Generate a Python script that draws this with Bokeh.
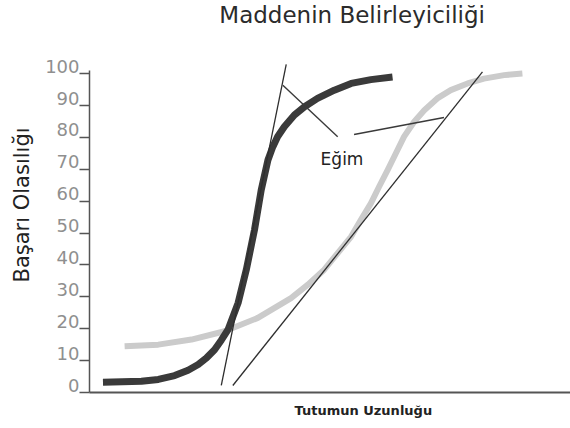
from bokeh.plotting import figure
from bokeh.models import Range1d, FixedTicker, LinearAxis, Title
from bokeh.embed import file_html
from bokeh.resources import INLINE
from bokeh.core.properties import value

# ---- data ----
title_text = ["Maddenin Belirleyiciliği"]
x_title = "Tutumun Uzunluğu"
y_title = "Başarı Olasılığı"
y_ticks = [0, 10, 20, 30, 40, 50, 60, 70, 80, 90, 100]

dark_x = [2.8, 10.8, 14.3, 17.7, 20.5, 22.6, 24.3, 26.0, 27.4, 28.8, 30.9, 32.6, 34.3, 35.7,
          37.1, 38.1, 39.1, 40.5, 42.6, 44.7, 47.4, 50.9, 54.4, 58.5, 63.0]
dark_y = [3.2, 3.5, 4.1, 5.3, 7.0, 8.8, 10.8, 13.4, 16.4, 19.7, 28.1, 38.5, 51.0, 63.5,
          72.9, 77.0, 80.2, 83.3, 87.0, 89.6, 92.2, 94.8, 96.9, 98.1, 98.9]

light_x = [7.3, 14.3, 21.2, 28.1, 35.0, 41.9, 45.4, 48.8, 51.6, 54.4, 56.4, 58.5, 60.2, 62.0,
           63.7, 65.4, 67.5, 69.6, 72.3, 75.1, 78.6, 82.0, 86.2, 90.0]
light_y = [14.5, 15.0, 16.6, 19.2, 23.4, 29.6, 33.8, 38.5, 43.7, 48.9, 54.1, 59.3, 64.5, 69.8,
           75.0, 80.2, 84.9, 88.5, 92.2, 94.8, 96.9, 98.4, 99.5, 100.0]

tangent_dark_x = [27.4, 40.9]
tangent_dark_y = [2.2, 102.9]
tangent_light_x = [29.8, 81.7]
tangent_light_y = [2.2, 100.5]

pointer_x0 = [51.6, 55.0]
pointer_y0 = [80.2, 80.9]
pointer_x1 = [40.2, 73.7]
pointer_y1 = [96.3, 86.2]

note_text = ["Eğim"]
note_x = [52.5]
note_y = [73.2]

title_x = [54.6]
title_y = [118.2]

FONT = "DejaVu Sans"
Y_END = 122.9
LABEL_SHIFT = 2.3   # tick labels sit just above their tick marks

p = figure(width=570, height=428, output_backend="svg", toolbar_location=None,
           x_range=Range1d(0, 100), y_range=Range1d(0, Y_END),
           min_border_left=88, min_border_right=0, min_border_top=0, min_border_bottom=35)
p.background_fill_color = "white"
p.border_fill_color = "white"
p.outline_line_color = None
p.xgrid.visible = False
p.ygrid.visible = False

# x axis: line only
p.xaxis.ticker = FixedTicker(ticks=[])
p.xaxis.axis_line_color = "#555555"
p.xaxis.axis_line_width = 2
p.xaxis.major_tick_line_color = None
p.xaxis.minor_tick_line_color = None
p.xaxis.major_label_standoff = 0
p.xaxis.major_tick_out = 0
p.xaxis.major_tick_in = 0

# y axis: line + tick marks
p.yaxis.ticker = FixedTicker(ticks=y_ticks)
p.yaxis.bounds = (0, 101)
p.yaxis.axis_line_color = "#555555"
p.yaxis.axis_line_width = 1.5
p.yaxis.major_tick_line_color = "#555555"
p.yaxis.major_tick_line_width = 1.5
p.yaxis.major_tick_out = 10
p.yaxis.major_tick_in = 0
p.yaxis.minor_tick_line_color = None
p.yaxis.major_label_standoff = 0
p.yaxis.major_label_overrides = {t: "" for t in y_ticks}
p.yaxis.major_label_text_color = None

# y tick labels, drawn on a shifted range so they sit above the marks
p.extra_y_ranges = {"labels": Range1d(-LABEL_SHIFT, Y_END - LABEL_SHIFT)}
lab_axis = LinearAxis(y_range_name="labels", ticker=FixedTicker(ticks=y_ticks),
                      axis_line_color=None, major_tick_line_color=None,
                      minor_tick_line_color=None, major_tick_out=0, major_tick_in=0,
                      major_label_standoff=0, major_label_text_font=FONT,
                      major_label_text_font_size="18px", major_label_text_color="#8f8f8f")
p.add_layout(lab_axis, "left")

# axis titles
p.add_layout(Title(text=x_title, align="left", offset=205, text_font=FONT,
                   text_font_size="13px", text_font_style="bold", text_color="#222222",
                   vertical_align="middle", standoff=19), "below")
p.add_layout(Title(text=y_title, align="left", offset=110, text_font=FONT,
                   text_font_size="21px", text_font_style="normal", text_color="#222222",
                   vertical_align="middle", standoff=16), "left")

# chart title (inside the top of the frame)
p.text(x=title_x, y=title_y, text=title_text, text_font=value(FONT),
       text_font_size="23px", text_color="#2b2b2b", text_align="center",
       text_baseline="middle")

# curves
p.line(light_x, light_y, line_color="#cbcbcb", line_width=6, line_join="round")
p.line(dark_x, dark_y, line_color="#3a3a3a", line_width=7, line_join="round")

# tangents
p.line(tangent_dark_x, tangent_dark_y, line_color="#2e2e2e", line_width=1.3)
p.line(tangent_light_x, tangent_light_y, line_color="#2e2e2e", line_width=1.3)

# pointers
p.segment(x0=pointer_x0, y0=pointer_y0, x1=pointer_x1, y1=pointer_y1,
          line_color="#3a3a3a", line_width=1.4)

p.text(x=note_x, y=note_y, text=note_text, text_font=value(FONT),
       text_font_size="17px", text_color="#222222", text_align="center",
       text_baseline="middle")

open("out.html", "w").write(file_html(p, INLINE))
